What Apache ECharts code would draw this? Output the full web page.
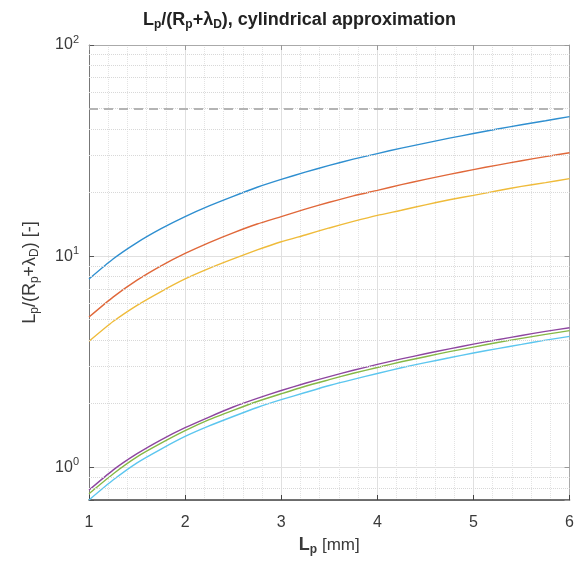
<!DOCTYPE html>
<html><head><meta charset="utf-8">
<script src="https://cdn.jsdelivr.net/npm/echarts@6/dist/echarts.min.js"></script>
<style>html,body{margin:0;padding:0;background:#fff}#c{width:577px;height:568px}</style>
</head><body><div id="c"></div>
<script>
const xValues = [1, 1.25, 1.5, 1.75, 2, 2.25, 2.5, 2.75, 3, 3.25, 3.5, 3.75, 4, 4.25, 4.5, 4.75, 5, 5.25, 5.5, 5.75, 6];
const seriesNames = ['s1', 's2', 's3', 's4', 's5', 's6'];
const blueValues   = [7.8, 9.7, 11.6, 13.5, 15.4, 17.3, 19.2, 21.2, 23.1, 25.0, 26.9, 28.8, 30.6, 32.5, 34.3, 36.2, 38.1, 40.0, 41.9, 43.8, 45.8];
const redValues    = [5.15, 6.4, 7.7, 9.0, 10.3, 11.6, 12.9, 14.2, 15.4, 16.7, 18.0, 19.3, 20.5, 21.8, 23.1, 24.4, 25.7, 27.0, 28.3, 29.6, 30.9];
const yellowValues = [3.95, 4.9, 5.85, 6.8, 7.8, 8.75, 9.7, 10.7, 11.7, 12.6, 13.6, 14.6, 15.6, 16.5, 17.5, 18.5, 19.4, 20.4, 21.4, 22.3, 23.3];
const purpleValues = [0.78, 0.97, 1.16, 1.35, 1.54, 1.73, 1.93, 2.12, 2.31, 2.50, 2.69, 2.88, 3.07, 3.26, 3.45, 3.64, 3.83, 4.02, 4.21, 4.40, 4.58];
const greenValues  = [0.75, 0.93, 1.12, 1.30, 1.49, 1.68, 1.86, 2.05, 2.23, 2.42, 2.60, 2.79, 2.97, 3.16, 3.34, 3.53, 3.71, 3.90, 4.08, 4.26, 4.44];
const cyanValues   = [0.70, 0.87, 1.05, 1.22, 1.40, 1.57, 1.74, 1.92, 2.09, 2.26, 2.44, 2.61, 2.78, 2.96, 3.13, 3.30, 3.48, 3.65, 3.82, 4.00, 4.17];
const referenceLevel = 50;
const yMin = 0.7, yMax = 100;
const xMin = 1, xMax = 6;
const minorYTicks = [0.8, 0.9, 2, 3, 4, 5, 6, 7, 8, 9, 20, 30, 40, 50, 60, 70, 80, 90];

const colors = ['#2f8fd0', '#e0683a', '#efbb3a', '#8e46a0', '#86b845', '#5cc6ef'];
const allValues = [blueValues, redValues, yellowValues, purpleValues, greenValues, cyanValues];

const chart = echarts.init(document.getElementById('c'), null, {renderer: 'canvas'});
const txt = '#3a3a3a';
const font = 'Liberation Sans, Arial, sans-serif';
function powLabel(v) {
  const l = Math.log10(v);
  if (Math.abs(l - Math.round(l)) < 1e-6) return '10{sup|' + Math.round(l) + '}';
  return '';
}
const lineSeries = allValues.map((vals, i) => ({
  name: seriesNames[i], type: 'line', showSymbol: false, smooth: 0.2,
  lineStyle: {color: colors[i], width: 1.4}, itemStyle: {color: colors[i]},
  data: xValues.map((x, j) => [x, vals[j]]), z: 3
}));

chart.setOption({
  animation: false,
  title: {
    text: 'L{sp|p}/(R{sp|p}+λ{sp|D}), cylindrical approximation',
    left: 138, top: 4,
    textStyle: {fontSize: 18, fontWeight: 'bold', color: '#222', fontFamily: font,
      rich: {sp: {fontSize: 12, fontWeight: 'bold', padding: [10, 0, 0, 0], color: '#222', fontFamily: font}}}
  },
  grid: {left: 89, right: 7, top: 45, bottom: 68, containLabel: false},
  xAxis: [{
    type: 'value', min: xMin, max: xMax, interval: 1,
    name: '{bb|L}{sb|p} [mm]', nameLocation: 'middle', nameGap: 31,
    nameTextStyle: {fontSize: 17, color: txt, fontFamily: font, rich: {
      bb: {fontSize: 18, fontWeight: 'bold', color: txt, fontFamily: font},
      sb: {fontSize: 12, fontWeight: 'bold', padding: [10, 0, 0, 0], color: txt, fontFamily: font}}},
    axisLine: {show: true, lineStyle: {color: '#444', width: 1.5}},
    axisTick: {show: true, inside: true, length: 5, lineStyle: {color: '#444'}},
    minorTick: {show: false, splitNumber: 5},
    axisLabel: {fontSize: 16, color: txt, margin: 15, fontFamily: font},
    splitLine: {show: true, lineStyle: {color: '#e0e0e0', width: 1}},
    minorSplitLine: {show: true, lineStyle: {color: '#e3e3e3', type: 'dotted', width: 1}}
  }, {
    type: 'value', position: 'top', min: xMin, max: xMax, interval: 1,
    axisLine: {show: true, lineStyle: {color: '#aaa', width: 1}},
    axisTick: {show: true, inside: true, length: 5, lineStyle: {color: '#999'}},
    axisLabel: {show: false}, splitLine: {show: false}
  }],
  yAxis: [{
    type: 'log', logBase: 10, min: yMin, max: yMax,
    name: 'L{sub|p}/(R{sub|p}+λ{sub|D}) [-]', nameLocation: 'middle', nameGap: 48,
    nameTextStyle: {fontSize: 18, color: txt, fontFamily: font, rich: {
      sub: {fontSize: 12, padding: [10, 0, 0, 0], color: txt, fontFamily: font}}},
    axisLine: {show: true, lineStyle: {color: '#777', width: 1}},
    axisTick: {show: true, inside: true, length: 5, lineStyle: {color: '#555'}},
    axisLabel: {fontSize: 16, color: txt, margin: 10, fontFamily: font,
      formatter: powLabel,
      rich: {sup: {fontSize: 11, padding: [0, 0, 10, 0], color: txt, fontFamily: font}}},
    splitLine: {show: true, lineStyle: {color: '#e0e0e0', width: 1}}
  }, {
    type: 'log', logBase: 10, min: yMin, max: yMax, position: 'right',
    axisLine: {show: true, lineStyle: {color: '#aaa', width: 1}},
    axisTick: {show: true, inside: true, length: 5, lineStyle: {color: '#999'}},
    axisLabel: {show: false}, splitLine: {show: false}
  }],
  series: [{
    type: 'line', data: [], silent: true, z: 1,
    markLine: {
      silent: true, symbol: ['none', 'none'], label: {show: false}, animation: false,
      lineStyle: {color: '#d8d8d8', type: 'dotted', width: 1},
      data: minorYTicks.map(v => ({yAxis: v}))
    }
  }, {
    type: 'line', data: [], silent: true, z: 2,
    markLine: {
      silent: true, symbol: ['none', 'none'], label: {show: false}, animation: false,
      lineStyle: {color: '#b4b4b4', type: [9, 6], width: 2},
      data: [{yAxis: referenceLevel}]
    }
  }].concat(lineSeries)
});
</script></body></html>
